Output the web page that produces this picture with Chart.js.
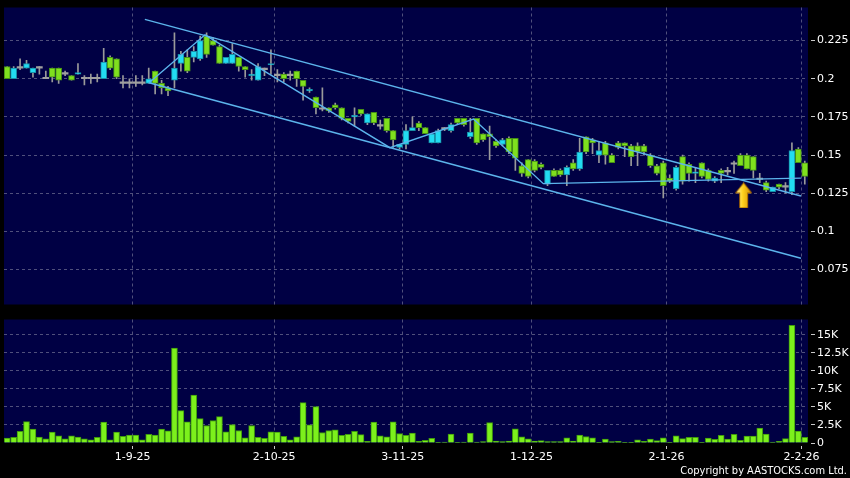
<!DOCTYPE html>
<html><head><meta charset="utf-8">
<script src="https://cdn.jsdelivr.net/npm/chart.js@4.4.1/dist/chart.umd.min.js"></script>
<style>
html,body{margin:0;padding:0;background:#000;width:850px;height:478px;overflow:hidden;}
#wrap{position:relative;width:850px;height:478px;background:#000;}
canvas{position:absolute;left:0;}
#pc{top:0;}
#vc{top:312px;}
#copy{position:absolute;right:3px;top:464px;color:#fff;font:11px 'DejaVu Sans Condensed','Liberation Sans',sans-serif;white-space:nowrap;}
</style></head><body>
<div id="wrap"><canvas id="pc" width="850" height="312"></canvas><canvas id="vc" width="850" height="166"></canvas><div id="copy">Copyright by AASTOCKS.com Ltd.</div></div>
<script>
// ---- data (daily bars, 4 Aug 2025 .. 2 Feb 2026) ----
const openP = [0.208,0.200,0.207,0.207,0.204,0.207,0.200,0.207,0.207,0.203,0.202,0.203,0.200,0.200,0.200,0.200,0.214,0.213,0.197,0.197,
0.197,0.197,0.197,0.205,0.197,0.194,0.199,0.210,0.214,0.214,0.213,0.228,0.225,0.221,0.210,0.210,0.214,0.208,0.202,0.199,
0.206,0.209,0.202,0.203,0.202,0.205,0.199,0.192,0.188,0.180,0.181,0.183,0.181,0.174,0.175,0.180,0.171,0.178,0.169,0.174,
0.166,0.155,0.157,0.166,0.171,0.168,0.158,0.158,0.167,0.166,0.174,0.174,0.162,0.174,0.164,0.164,0.159,0.157,0.161,0.161,
0.143,0.147,0.146,0.144,0.131,0.140,0.140,0.137,0.145,0.141,0.162,0.160,0.150,0.158,0.150,0.158,0.158,0.156,0.156,0.156,
0.150,0.143,0.145,0.135,0.128,0.149,0.144,0.138,0.145,0.140,0.133,0.140,0.139,0.144,0.150,0.150,0.149,0.134,0.132,0.126,
0.131,0.129,0.126,0.154,0.145];
const highP = [0.208,0.208,0.213,0.212,0.207,0.208,0.205,0.207,0.207,0.205,0.202,0.210,0.202,0.203,0.203,0.220,0.215,0.213,0.202,0.200,
0.202,0.202,0.207,0.205,0.199,0.195,0.230,0.218,0.219,0.221,0.228,0.230,0.227,0.222,0.214,0.223,0.214,0.208,0.206,0.210,
0.207,0.219,0.206,0.204,0.205,0.205,0.199,0.194,0.188,0.194,0.181,0.184,0.181,0.174,0.181,0.180,0.177,0.178,0.173,0.174,
0.166,0.157,0.170,0.175,0.172,0.168,0.164,0.167,0.168,0.171,0.174,0.174,0.174,0.174,0.164,0.169,0.160,0.161,0.162,0.161,
0.145,0.147,0.147,0.145,0.140,0.141,0.141,0.143,0.147,0.161,0.162,0.161,0.159,0.159,0.151,0.159,0.158,0.157,0.158,0.157,
0.151,0.144,0.146,0.137,0.143,0.150,0.145,0.142,0.145,0.141,0.136,0.141,0.142,0.146,0.151,0.151,0.149,0.138,0.133,0.129,
0.131,0.132,0.158,0.155,0.146];
const lowP = [0.200,0.200,0.206,0.207,0.201,0.203,0.200,0.198,0.197,0.202,0.199,0.203,0.196,0.197,0.198,0.200,0.206,0.200,0.194,0.194,
0.195,0.196,0.197,0.190,0.190,0.189,0.194,0.205,0.204,0.211,0.212,0.214,0.222,0.210,0.210,0.210,0.205,0.201,0.199,0.199,
0.202,0.203,0.198,0.198,0.199,0.195,0.186,0.191,0.177,0.179,0.178,0.180,0.173,0.171,0.169,0.176,0.170,0.170,0.167,0.165,
0.155,0.154,0.154,0.166,0.166,0.164,0.158,0.158,0.166,0.165,0.170,0.169,0.161,0.157,0.159,0.147,0.155,0.156,0.151,0.140,
0.136,0.135,0.139,0.141,0.130,0.136,0.136,0.130,0.140,0.140,0.151,0.151,0.145,0.144,0.145,0.154,0.149,0.143,0.143,0.150,
0.142,0.137,0.122,0.132,0.127,0.131,0.133,0.132,0.135,0.133,0.132,0.132,0.137,0.138,0.143,0.141,0.135,0.132,0.126,0.126,
0.128,0.125,0.124,0.145,0.131];
const closeP = [0.200,0.207,0.207,0.210,0.207,0.207,0.200,0.201,0.199,0.203,0.199,0.204,0.200,0.200,0.200,0.211,0.207,0.201,0.197,0.197,
0.197,0.197,0.200,0.197,0.194,0.192,0.207,0.216,0.205,0.218,0.225,0.216,0.222,0.210,0.214,0.216,0.208,0.206,0.203,0.208,
0.206,0.210,0.202,0.200,0.202,0.200,0.195,0.193,0.181,0.180,0.179,0.181,0.174,0.172,0.176,0.177,0.177,0.171,0.169,0.166,
0.160,0.157,0.166,0.168,0.168,0.164,0.164,0.166,0.167,0.170,0.171,0.170,0.165,0.158,0.160,0.162,0.156,0.160,0.152,0.148,
0.138,0.136,0.140,0.142,0.140,0.136,0.137,0.142,0.141,0.152,0.152,0.158,0.153,0.150,0.145,0.155,0.156,0.149,0.152,0.152,
0.143,0.138,0.130,0.133,0.142,0.133,0.138,0.139,0.136,0.134,0.135,0.138,0.139,0.144,0.143,0.141,0.140,0.134,0.127,0.129,
0.129,0.129,0.153,0.145,0.136];
const volumeK = [0.69,0.77,1.6,2.97,1.93,0.83,0.59,1.51,1.0,0.59,1.0,0.83,0.59,0.45,0.77,2.89,0.45,1.51,0.91,1.1,
1.1,0.45,1.19,1.1,1.93,1.69,13.15,4.49,2.93,6.64,3.39,2.42,3.11,3.66,1.55,2.56,1.73,0.73,2.42,0.77,
0.64,1.55,1.51,0.91,0.45,0.87,5.59,2.52,5.04,1.46,1.73,1.83,1.05,1.19,1.6,1.15,0.22,2.89,1.0,0.87,
2.93,1.32,1.05,1.37,0.22,0.36,0.64,0.05,0.14,1.24,0.05,0.14,1.37,0.14,0.18,2.84,0.27,0.18,0.27,1.97,
0.87,0.59,0.27,0.32,0.18,0.18,0.18,0.73,0.27,1.1,0.9,0.73,0.05,0.55,0.18,0.22,0.05,0.05,0.45,0.22,
0.55,0.32,0.73,0.05,1.0,0.6,0.77,0.77,0.05,0.69,0.5,1.05,0.55,1.19,0.36,0.96,0.96,2.06,1.24,0.14,
0.22,0.6,16.3,1.65,0.77];
// x-axis tick labels and the bar index each date falls on
const xTickLabels = ['1-9-25','2-10-25','3-11-25','1-12-25','2-1-26','2-2-26'];
const xTickBars = [20,42,62,82,103,124];
const priceTicks = [0.075,0.1,0.125,0.15,0.175,0.2,0.225];
const volumeTicks = [0,2.5,5,7.5,10,12.5,15];
// drawn trend lines (bar index, price)
const upperChannel = [{x:21.4,y:0.2389},{x:123.4,y:0.1232}];
const lowerChannel = [{x:22.05,y:0.1974},{x:123.4,y:0.0824}];
const swingLine = [{x:22.05,y:0.1974},{x:30.75,y:0.2288},{x:59.5,y:0.1549},{x:72.5,y:0.1736},{x:83.35,y:0.1313},{x:123.4,y:0.1349}];
const signalArrow = [{x:114.5,y:0.1236}];

// ---- styling ----
const BG = '#000044', GRID = '#50507c', LINE = '#5cb4ec';
const UP = '#22dcf2', UPB = '#178ea6', DN = '#7fe01e', DNB = '#458f16', DOJI = '#a0a0a0', WICK = '#9a9a9a';
const VOL = '#7cf01c', VOLB = '#3f9a0c';
Chart.defaults.font.family = "'DejaVu Sans', sans-serif";
Chart.defaults.font.size = 11;
Chart.defaults.color = '#ffffff';

const idx = closeP.map((_, i) => i);
const dir = i => closeP[i] > openP[i] ? 1 : (closeP[i] < openP[i] ? -1 : 0);

const plotBg = { id: 'plotBg', beforeDraw(chart) {
  const { ctx, chartArea: a } = chart;
  ctx.save(); ctx.fillStyle = BG; ctx.fillRect(a.left, a.top, a.right - a.left, a.bottom - a.top); ctx.restore();
}};

function makeArrow() {
  const c = document.createElement('canvas'); c.width = 17; c.height = 26;
  const g = c.getContext('2d');
  const grad = g.createLinearGradient(0, 0, 17, 0);
  grad.addColorStop(0, '#fff6b0'); grad.addColorStop(0.45, '#ffd21e'); grad.addColorStop(1, '#d08800');
  g.beginPath(); g.moveTo(8.5, 0.5); g.lineTo(16.5, 10.5); g.lineTo(12.5, 10.5); g.lineTo(12.5, 25.5);
  g.lineTo(4.5, 25.5); g.lineTo(4.5, 10.5); g.lineTo(0.5, 10.5); g.closePath();
  g.fillStyle = grad; g.fill(); g.strokeStyle = '#a86800'; g.lineWidth = 1; g.stroke();
  return c;
}

const xRange = { type: 'linear', min: -0.5, max: 124.5, offset: false };

new Chart(document.getElementById('pc'), {
  type: 'bar',
  data: { datasets: [
    { type: 'line', data: signalArrow, showLine: false, pointStyle: makeArrow(), pointRadius: 1, order: -1, clip: false },
    { type: 'line', data: upperChannel, borderColor: LINE, borderWidth: 1.4, pointRadius: 0, order: 0 },
    { type: 'line', data: lowerChannel, borderColor: LINE, borderWidth: 1.4, pointRadius: 0, order: 0 },
    { type: 'line', data: swingLine, borderColor: LINE, borderWidth: 1.4, pointRadius: 0, order: 0 },
    { type: 'bar', data: idx.map(i => ({ x: i, y: [openP[i], closeP[i]] })),
      backgroundColor: c => [DN, DOJI, UP][dir(c.dataIndex) + 1],
      borderColor: c => [DNB, DOJI, UPB][dir(c.dataIndex) + 1],
      borderWidth: c => dir(c.dataIndex) === 0 ? 0 : 1, borderSkipped: false,
      barThickness: 6, minBarLength: 1.5, grouped: false, order: 1 },
    { type: 'bar', data: idx.map(i => ({ x: i, y: [lowP[i], highP[i]] })),
      backgroundColor: WICK, borderWidth: 0, barThickness: 1, grouped: false, order: 2 }
  ]},
  options: {
    responsive: false, animation: false, devicePixelRatio: 1,
    layout: { autoPadding: false, padding: { top: 6, left: 4, right: 0, bottom: 7 } },
    plugins: { legend: { display: false }, tooltip: { enabled: false } },
    scales: {
      x: { ...xRange,
        afterBuildTicks: s => { s.ticks = xTickBars.map(b => ({ value: b - 0.5 })); },
        ticks: { display: false }, grid: { color: GRID, drawTicks: false, offset: false },
        border: { display: false, dash: [3, 3] }, afterFit: s => { s.height = 0; } },
      y: { type: 'linear', position: 'right', min: 0.05214, max: 0.24667, beginAtZero: false,
        afterBuildTicks: s => { s.ticks = priceTicks.map(v => ({ value: v })); },
        ticks: { color: '#fff', padding: 2, font: { lineHeight: 1 }, callback: v => String(+v.toFixed(3)) },
        grid: { color: GRID, tickColor: '#c8c8c8', tickLength: 7, tickBorderDash: [0, 3, 4, 60] },
        border: { display: false, dash: [3, 3] }, afterFit: s => { s.width = 42; } }
    }
  },
  plugins: [plotBg]
});

new Chart(document.getElementById('vc'), {
  type: 'bar',
  data: { datasets: [
    { data: idx.map(i => ({ x: i, y: volumeK[i] })), backgroundColor: VOL, borderColor: VOLB,
      borderWidth: 1, borderSkipped: 'start', barThickness: 6, grouped: false }
  ]},
  options: {
    responsive: false, animation: false, devicePixelRatio: 1,
    layout: { autoPadding: false, padding: { top: 7, left: 4, right: 0, bottom: 0 } },
    plugins: { legend: { display: false }, tooltip: { enabled: false } },
    scales: {
      x: { ...xRange,
        afterBuildTicks: s => { s.ticks = xTickBars.map(b => ({ value: b - 0.5 })); },
        ticks: { color: '#fff', padding: 2, maxRotation: 0, autoSkip: false, callback: (v, i) => xTickLabels[i] },
        grid: { color: GRID, offset: false, tickLength: 6, tickColor: '#c8c8c8', tickBorderDash: [0, 3, 3, 40] },
        border: { display: false, dash: [3, 3] }, afterFit: s => { s.height = 35; } },
      y: { type: 'linear', position: 'right', min: 0, max: 17.1, beginAtZero: true,
        afterBuildTicks: s => { s.ticks = volumeTicks.map(v => ({ value: v })); },
        ticks: { color: '#fff', padding: 2, font: { lineHeight: 1 }, callback: v => v === 0 ? '0' : (v + 'K') },
        grid: { color: c => (c.tick && c.tick.value === 0) ? 'rgba(0,0,0,0)' : GRID, tickColor: '#c8c8c8', tickLength: 7, tickBorderDash: [0, 3, 4, 60] },
        border: { display: false, dash: [3, 3] }, afterFit: s => { s.width = 42; } }
    }
  },
  plugins: [plotBg]
});
</script>
</body></html>
